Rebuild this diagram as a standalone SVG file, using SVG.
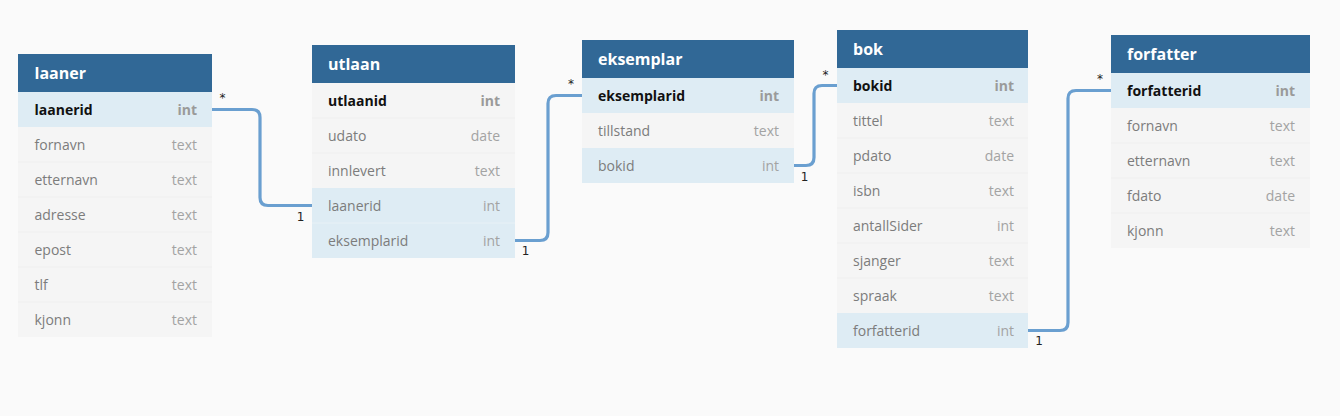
<svg xmlns="http://www.w3.org/2000/svg" width="1340" height="416" viewBox="0 0 1340 416">
<style>
.bg{fill:#fafafa}
.hd{fill:#316896}
.row{fill:#f5f5f5}
.hl{fill:#deecf4}
.sep{stroke:#efefef;stroke-width:1}
.title{font-family:"Open Sans","Noto Sans",sans-serif;font-size:16px;font-weight:bold;fill:#ffffff}
.fn{font-family:"Open Sans","Noto Sans",sans-serif;font-size:14px;fill:#7c7c7c}
.ft{font-family:"Open Sans","Noto Sans",sans-serif;font-size:14px;fill:#a3a3a3;text-anchor:end}
.kn{font-family:"Open Sans","Noto Sans",sans-serif;font-size:14px;font-weight:bold;fill:#111111}
.kt{font-family:"Open Sans","Noto Sans",sans-serif;font-size:14px;font-weight:bold;fill:#9a9a9a;text-anchor:end}
.conn{fill:none;stroke:#6a9fd0;stroke-width:3.2}
.lbl{font-family:"DejaVu Sans",sans-serif;font-size:12px;fill:#222222;text-anchor:middle}
</style>
<rect class="bg" x="0" y="0" width="1340" height="416"/>

<g id="connectors">
<path class="conn" d="M212,109.5 H252 Q260,109.5 260,117.5 V197.5 Q260,205.5 268,205.5 H312"/>
<path class="conn" d="M515,240.5 H540 Q548,240.5 548,232.5 V103.5 Q548,95.5 556,95.5 H582"/>
<path class="conn" d="M794,165.5 H806 Q814,165.5 814,157.5 V93.5 Q814,85.5 822,85.5 H837"/>
<path class="conn" d="M1028,330.5 H1060 Q1068,330.5 1068,322.5 V98.5 Q1068,90.5 1076,90.5 H1111"/>
<text class="lbl" x="222.5" y="102">*</text>
<text class="lbl" x="300.5" y="220.5">1</text>
<text class="lbl" x="571" y="88">*</text>
<text class="lbl" x="525.5" y="255">1</text>
<text class="lbl" x="825.5" y="78.5">*</text>
<text class="lbl" x="804.5" y="181">1</text>
<text class="lbl" x="1100" y="83">*</text>
<text class="lbl" x="1039" y="344.5">1</text>
</g>

<g id="laaner">
<rect class="hd" x="18" y="54" width="194" height="38"/>
<text class="title" x="34.5" y="79">laaner</text>
<rect class="hl" x="18" y="92" width="194" height="35"/>
<rect class="row" x="18" y="127" width="194" height="210"/>
<line class="sep" x1="18" y1="162" x2="212" y2="162"/>
<line class="sep" x1="18" y1="197" x2="212" y2="197"/>
<line class="sep" x1="18" y1="232" x2="212" y2="232"/>
<line class="sep" x1="18" y1="267" x2="212" y2="267"/>
<line class="sep" x1="18" y1="302" x2="212" y2="302"/>
<text class="kn" x="34.5" y="114.5">laanerid</text><text class="kt" x="197" y="114.5">int</text>
<text class="fn" x="34.5" y="149.5">fornavn</text><text class="ft" x="197" y="149.5">text</text>
<text class="fn" x="34.5" y="184.5">etternavn</text><text class="ft" x="197" y="184.5">text</text>
<text class="fn" x="34.5" y="219.5">adresse</text><text class="ft" x="197" y="219.5">text</text>
<text class="fn" x="34.5" y="254.5">epost</text><text class="ft" x="197" y="254.5">text</text>
<text class="fn" x="34.5" y="289.5">tlf</text><text class="ft" x="197" y="289.5">text</text>
<text class="fn" x="34.5" y="324.5">kjonn</text><text class="ft" x="197" y="324.5">text</text>
</g>

<g id="utlaan">
<rect class="hd" x="312" y="45" width="203" height="38"/>
<text class="title" x="328" y="70">utlaan</text>
<rect class="row" x="312" y="83" width="203" height="105"/>
<rect class="hl" x="312" y="188" width="203" height="70"/>
<line class="sep" x1="312" y1="118" x2="515" y2="118"/>
<line class="sep" x1="312" y1="153" x2="515" y2="153"/>
<line class="sep" x1="312" y1="223" x2="515" y2="223" style="stroke:#e8f1f6"/>
<text class="kn" x="328" y="105.5">utlaanid</text><text class="kt" x="500" y="105.5">int</text>
<text class="fn" x="328" y="140.5">udato</text><text class="ft" x="500" y="140.5">date</text>
<text class="fn" x="328" y="175.5">innlevert</text><text class="ft" x="500" y="175.5">text</text>
<text class="fn" x="328" y="210.5">laanerid</text><text class="ft" x="500" y="210.5">int</text>
<text class="fn" x="328" y="245.5">eksemplarid</text><text class="ft" x="500" y="245.5">int</text>
</g>

<g id="eksemplar">
<rect class="hd" x="582" y="40" width="212" height="38"/>
<text class="title" x="598" y="65">eksemplar</text>
<rect class="hl" x="582" y="78" width="212" height="35"/>
<rect class="row" x="582" y="113" width="212" height="35"/>
<rect class="hl" x="582" y="148" width="212" height="35"/>
<text class="kn" x="598" y="100.5">eksemplarid</text><text class="kt" x="779" y="100.5">int</text>
<text class="fn" x="598" y="135.5">tillstand</text><text class="ft" x="779" y="135.5">text</text>
<text class="fn" x="598" y="170.5">bokid</text><text class="ft" x="779" y="170.5">int</text>
</g>

<g id="bok">
<rect class="hd" x="837" y="30" width="191" height="38"/>
<text class="title" x="853" y="55">bok</text>
<rect class="hl" x="837" y="68" width="191" height="35"/>
<rect class="row" x="837" y="103" width="191" height="210"/>
<rect class="hl" x="837" y="313" width="191" height="35"/>
<line class="sep" x1="837" y1="138" x2="1028" y2="138"/>
<line class="sep" x1="837" y1="173" x2="1028" y2="173"/>
<line class="sep" x1="837" y1="208" x2="1028" y2="208"/>
<line class="sep" x1="837" y1="243" x2="1028" y2="243"/>
<line class="sep" x1="837" y1="278" x2="1028" y2="278"/>
<text class="kn" x="853" y="90.5">bokid</text><text class="kt" x="1014" y="90.5">int</text>
<text class="fn" x="853" y="125.5">tittel</text><text class="ft" x="1014" y="125.5">text</text>
<text class="fn" x="853" y="160.5">pdato</text><text class="ft" x="1014" y="160.5">date</text>
<text class="fn" x="853" y="195.5">isbn</text><text class="ft" x="1014" y="195.5">text</text>
<text class="fn" x="853" y="230.5">antallSider</text><text class="ft" x="1014" y="230.5">int</text>
<text class="fn" x="853" y="265.5">sjanger</text><text class="ft" x="1014" y="265.5">text</text>
<text class="fn" x="853" y="300.5">spraak</text><text class="ft" x="1014" y="300.5">text</text>
<text class="fn" x="853" y="335.5">forfatterid</text><text class="ft" x="1014" y="335.5">int</text>
</g>

<g id="forfatter">
<rect class="hd" x="1111" y="35" width="199" height="38"/>
<text class="title" x="1127" y="60">forfatter</text>
<rect class="hl" x="1111" y="73" width="199" height="35"/>
<rect class="row" x="1111" y="108" width="199" height="140"/>
<line class="sep" x1="1111" y1="143" x2="1310" y2="143"/>
<line class="sep" x1="1111" y1="178" x2="1310" y2="178"/>
<line class="sep" x1="1111" y1="213" x2="1310" y2="213"/>
<text class="kn" x="1127" y="95.5">forfatterid</text><text class="kt" x="1295" y="95.5">int</text>
<text class="fn" x="1127" y="130.5">fornavn</text><text class="ft" x="1295" y="130.5">text</text>
<text class="fn" x="1127" y="165.5">etternavn</text><text class="ft" x="1295" y="165.5">text</text>
<text class="fn" x="1127" y="200.5">fdato</text><text class="ft" x="1295" y="200.5">date</text>
<text class="fn" x="1127" y="235.5">kjonn</text><text class="ft" x="1295" y="235.5">text</text>
</g>
</svg>
